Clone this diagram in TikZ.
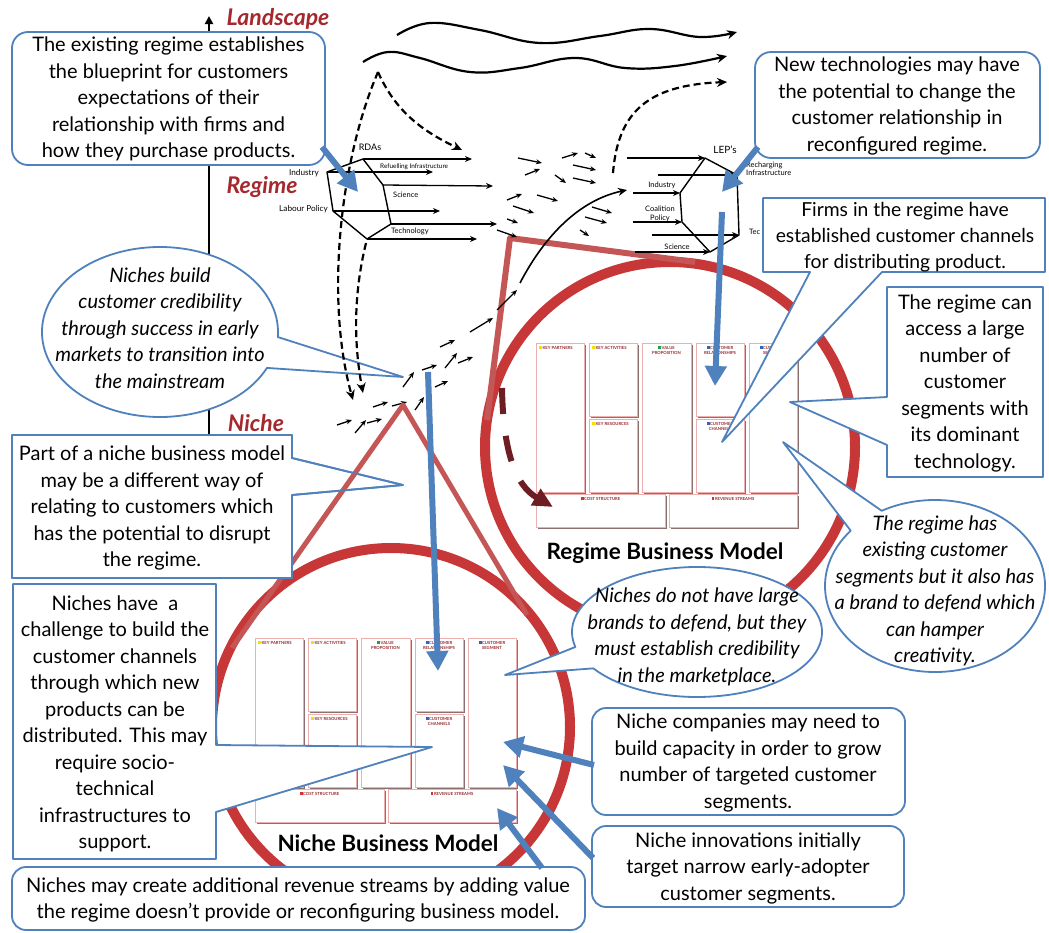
\documentclass[tikz,border=0pt]{standalone}
\usepackage{fontspec}
\setmainfont{Lato}
\usetikzlibrary{arrows.meta}
\definecolor{cblue}{RGB}{79,129,189}
\definecolor{ttl}{RGB}{165,40,45}
\definecolor{ringred}{RGB}{200,55,55}
\definecolor{conered}{RGB}{196,86,86}
\definecolor{dkred}{RGB}{110,30,35}
\definecolor{cvborder}{RGB}{238,175,175}
\definecolor{cvshadow}{RGB}{140,112,112}
\definecolor{cvtext}{RGB}{150,40,45}
\definecolor{sqy}{RGB}{245,225,0}
\definecolor{sqg}{RGB}{30,160,70}
\definecolor{sqb}{RGB}{50,100,190}
\definecolor{sqr}{RGB}{210,50,50}
\newcommand{\cvsq}[1]{\textcolor{#1}{\rule{2.8pt}{2.8pt}}\hspace{0.6pt}}
\tikzset{
 callout/.style={draw=cblue, line width=1.8pt, fill=white, line join=round},
 txt/.style={align=center, font=\fontsize{20}{26.5}\selectfont, inner sep=0pt},
 itxt/.style={align=center, font=\fontsize{20}{26.5}\selectfont\itshape, inner sep=0pt},
 bluearrow/.style={draw=cblue, line width=6pt, -{Triangle[length=20pt,width=21pt]}},
 swarm/.style={line width=1.3pt, -{Stealth[length=6pt,width=5pt]}},
 hexarrow/.style={line width=1.3pt, -{Stealth[length=7pt,width=6pt]}},
 hexline/.style={line width=1.4pt, line join=round},
 wave/.style={line width=2.2pt, -{Stealth[length=10pt,width=9pt]}},
 dashcurve/.style={line width=2.2pt, dash pattern=on 7pt off 4pt, -{Stealth[length=10pt,width=9pt]}},
 smalltxt/.style={font=\fontsize{7.5}{8.5}\selectfont, inner sep=0pt},
 lvl/.style={font=\fontsize{23}{24}\selectfont\bfseries\itshape, text=ttl, inner sep=0pt},
 cvlabel/.style={font=\fontsize{4.2}{4.8}\selectfont\bfseries, text=cvtext, inner sep=0pt, align=center},
 bmtitle/.style={font=\fontsize{22.5}{24}\selectfont\bfseries, inner sep=0pt},
}
\newcommand{\bmcanvas}[3]{%
\begin{scope}[shift={(#2,#3)}]
\foreach \xa/\ya/\xb/\yb in {0/0/48/149,53/0/101/73,53/76/101/149,106/0/155/149,160/0/208/73,160/76/208/149,213/0/261/149,0/151/129/184,133/151/261/184}{
 \fill[cvshadow] (\xa+1.6,\ya+1.6) rectangle (\xb+1.6,\yb+1.6);
 \draw[cvborder,line width=0.9pt,fill=white] (\xa,\ya) rectangle (\xb,\yb);
}
\node[cvlabel,anchor=north west] (#1kp) at (3,3) {\cvsq{sqy}KEY PARTNERS};
\node[cvlabel,anchor=north west] (#1ka) at (56,3) {\cvsq{sqy}KEY ACTIVITIES};
\node[cvlabel,anchor=north west] (#1kr) at (56,79) {\cvsq{sqy}KEY RESOURCES};
\node[cvlabel,anchor=north] (#1vp) at (130.5,3) {\cvsq{sqg}VALUE\\PROPOSITION};
\node[cvlabel,anchor=north] (#1cr) at (184,3) {\cvsq{sqb}CUSTOMER\\RELATIONSHIPS};
\node[cvlabel,anchor=north] (#1cc) at (184,79) {\cvsq{sqb}CUSTOMER\\CHANNELS};
\node[cvlabel,anchor=north] (#1cs) at (237,3) {\cvsq{sqb}CUSTOMER\\SEGMENT};
\node[cvlabel,anchor=north] (#1co) at (64.5,154) {\cvsq{sqr}COST STRUCTURE};
\node[cvlabel,anchor=north] (#1re) at (197,154) {\cvsq{sqr}REVENUE STREAMS};
\end{scope}}
\begin{document}
\begin{tikzpicture}[x=1pt,y=-1pt]
\useasboundingbox (0,0) rectangle (1049,932);
\fill[white] (0,0) rectangle (1049,932);
% axis
\coordinate (axb) at (209,440);
\coordinate (axt) at (209,16);
\draw[line width=2.4pt, -{Triangle[length=8pt,width=8pt]}] (axb) -- (axt);
% circles and cone
\draw[ringred, line width=10pt] (670,447) circle[radius=185];
\draw[ringred, line width=10pt] (391,727) circle[radius=179];
\draw[conered, line width=6pt, line join=round] (487,420) -- (510,238) -- (695,262);
% canvases
\bmcanvas{r}{536}{343}
\bmcanvas{n}{255}{638}
% hexagon labels
\node[smalltxt, font=\fontsize{9}{10}\selectfont] (rdas) at (370,147) {RDAs};
\node[smalltxt, font=\fontsize{8.2}{9}\selectfont, anchor=east] (lind) at (319,173) {Industry};
\node[smalltxt, font=\fontsize{8.2}{9}\selectfont, anchor=east] (llab) at (328,209) {Labour Policy};
\node[smalltxt, font=\fontsize{6.4}{7}\selectfont, anchor=west] (lref) at (380,167) {Refuelling Infrastructure};
\node[smalltxt, anchor=west] (lsci) at (393,195) {Science};
\node[smalltxt, anchor=west] (ltec) at (391,231) {Technology};
\node[smalltxt, font=\fontsize{10}{11}\selectfont] (leps) at (725,150) {LEP’s};
\node[smalltxt, anchor=west, align=left] (rrec) at (746,169) {Recharging\\Infrastructure};
\node[smalltxt] (rind) at (662,185) {Industry};
\node[smalltxt, align=center] (rcoa) at (660,214) {Coalition\\Policy};
\node[smalltxt] (rsci) at (677,247) {Science};
\node[smalltxt, anchor=west] (rtec) at (749,232) {Tec};
% callout shapes
\draw[callout, rounded corners=16pt] (12,32) rectangle (325,165);
\draw[callout, rounded corners=16pt] (755,52) rectangle (1040,158);
\draw[callout] (763,198) -- (1045,198) -- (1045,272) -- (882,272) -- (722,442) -- (810,272) -- (763,272) -- cycle;
\draw[callout] (887,287) -- (1043,287) -- (1043,477) -- (887,477) -- (887,445) -- (790,402) -- (887,397) -- cycle;
\draw[callout] (935,586) ++(241:110 and 86) arc[start angle=241, end angle=580, x radius=110, y radius=86] -- (783,442) -- cycle;
\draw[callout] (160,332) ++(25:118 and 85) arc[start angle=25, end angle=363.4, x radius=118, y radius=85] -- (403,377) -- cycle;
\draw[callout] (12,435) -- (292,435) -- (292,458) -- (403,485) -- (292,495) -- (292,578) -- (12,578) -- cycle;
\draw[callout] (13,584) -- (216,584) -- (216,745) -- (432,747) -- (216,812) -- (216,859) -- (13,859) -- cycle;
\draw[callout, rounded corners=14pt] (12,867) rectangle (585,930);
\draw[callout] (697,632) ++(166.7:125 and 65) arc[start angle=166.7, end angle=506, x radius=125, y radius=65] -- (505,675) -- cycle;
\draw[callout, rounded corners=14pt] (592,708) rectangle (905,815);
\draw[callout, rounded corners=14pt] (592,826) rectangle (904,907);
% waves and dashed curves
\draw[wave] plot[smooth, tension=0.7] coordinates {(397,35) (430,23) (480,30) (540,43) (600,36) (650,29) (700,37) (737,32)};
\draw[wave] plot[smooth, tension=0.7] coordinates {(363,62) (388,52) (420,58) (470,72) (520,68) (575,58) (625,68) (675,66) (727,56)};
\draw[dashcurve] (613,173) .. controls (618,110) and (650,85) .. (727,82);
\coordinate (peak) at (378,72);
\draw[dashcurve] (peak) .. controls (395,110) and (420,130) .. (462,150);
\draw[dashcurve] (peak) .. controls (340,160) and (325,300) .. (353,400);
\draw[dashcurve] (366,243) .. controls (352,300) and (355,350) .. (363,393);
% left hexagon
\coordinate (lh1) at (327,172);
\coordinate (lh2) at (363,159);
\coordinate (lh3) at (383,185);
\coordinate (lh4) at (391,224);
\coordinate (lh5) at (367,239);
\coordinate (lh6) at (333,211);
\draw[hexline] (lh1) -- (lh2) -- (lh3) -- (lh4) -- (lh5) -- (lh6) -- cycle;
\draw[hexarrow] (lh2) -- (472,159);
\draw[hexarrow] (lh1) -- (433,172);
\draw[hexarrow] (lh3) -- (493,186);
\draw[hexarrow] (lh6) -- (440,211);
\draw[hexarrow] (lh4) -- (497,224);
\draw[hexarrow] (lh5) -- (477,239);
% right hexagon
\coordinate (rh1) at (680,193);
\coordinate (rh2) at (705,158);
\coordinate (rh3) at (737,175);
\coordinate (rh4) at (739,235);
\coordinate (rh5) at (710,252);
\coordinate (rh6) at (682,222);
\draw[hexline] (rh1) -- (rh2) -- (rh3) -- (rh4) -- (rh5) -- (rh6) -- cycle;
\draw[hexarrow] (627,158) -- (rh2);
\draw[hexarrow] (658,175) -- (rh3);
\draw[hexarrow] (633,193) -- (rh1);
\draw[hexarrow] (633,222) -- (rh6);
\draw[hexarrow] (652,235) -- (rh4);
\draw[hexarrow] (635,252) -- (rh5);
% swarm arrows
\foreach \a/\b/\c/\d in {518/158/542/163, 525/175/540/169, 562/158/578/153, 585/153/596/158, 573/165/596/170, 555/175/566/183, 573/178/596/183, 507/200/522/194, 537/195/558/201, 513/206/534/213, 507/219/518/223, 592/207/612/213, 585/217/607/223, 580/230/589/236, 497/230/517/237,
 337/425/352/420, 355/433/366/420, 367/423/382/419, 373/407/388/402, 392/406/407/402, 403/387/414/372, 415/410/424/397, 422/370/437/365, 435/387/448/381, 445/368/457/353, 440/347/455/340, 458/363/473/357, 470/332/493/318, 497/310/517/290}
 \draw[swarm] (\a,\b) -- (\c,\d);
\draw[line width=1.6pt, -{Stealth[length=9pt,width=8pt]}] (520,283) .. controls (545,235) and (580,200) .. (627,190);
% niche triangle
\draw[conered, line width=5pt, line join=round] (232,648) -- (403,405) -- (527,615);
\fill[white] (13,436) rectangle (291,577);
\draw[callout, fill=none] (12,435) -- (292,435) -- (292,458) -- (403,485) -- (292,495) -- (292,578) -- (12,578) -- cycle;
% dark red dashed arrow
\draw[dkred, line width=6pt, dash pattern=on 26pt off 22pt, -{Triangle[length=20pt,width=18pt]}] (502,388) .. controls (503,450) and (515,485) .. (553,507);
% blue arrows
\coordinate (a1s) at (322,147); \coordinate (a1e) at (358,192);
\coordinate (a2s) at (758,147); \coordinate (a2e) at (722,192);
\coordinate (a3s) at (722,212); \coordinate (a3e) at (715,386);
\coordinate (a4s) at (428,372); \coordinate (a4e) at (438,671);
\coordinate (a5s) at (594,765); \coordinate (a5e) at (503,742);
\coordinate (a6s) at (593,858); \coordinate (a6e) at (503,765);
\coordinate (a7s) at (542,868); \coordinate (a7e) at (497,808);
\draw[bluearrow] (a1s) -- (a1e);
\draw[bluearrow] (a2s) -- (a2e);
\draw[bluearrow] (a3s) -- (a3e);
\draw[bluearrow] (a4s) -- (a4e);
\draw[bluearrow] (a5s) -- (a5e);
\draw[bluearrow] (a6s) -- (a6e);
\draw[bluearrow] (a7s) -- (a7e);
% titles
\node[lvl] (land) at (278,19) {Landscape};
\node[lvl] (regi) at (262,187) {Regime};
\node[lvl] (nich) at (256,423) {Niche};
\node[bmtitle] (rbm) at (665,553) {Regime Business Model};
\node[bmtitle] (nbm) at (388,843) {Niche Business Model};
% callout texts
\node[txt] (t1) at (168.5,99) {The existing regime establishes\\the blueprint for customers\\expectations of their\\relationship with firms and\\how they purchase products.};
\node[txt] (t2) at (897,106) {New technologies may have\\the potential to change the\\customer relationship in\\reconfigured regime.};
\node[txt, font=\fontsize{19.3}{26}\selectfont] (t4) at (905,237) {Firms in the regime have\\established customer channels\\for distributing product.};
\node[txt] (t5) at (965,383) {The regime can\\access a large\\number of\\customer\\segments with\\its dominant\\technology.};
\node[itxt] (t6) at (935,591) {The regime has\\existing customer\\segments but it also has\\a brand to defend which\\can hamper\\creativity.};
\node[itxt] (t7) at (160,328) {Niches build\\customer credibility\\through success in early\\markets to transition into\\the mainstream};
\node[txt] (t8) at (152,508) {Part of a niche business model\\may be a different way of\\relating to customers which\\has the potential to disrupt\\the regime.};
\node[txt] (t9) at (115,724) {Niches have \ a\\challenge to build the\\customer channels\\through which new\\products can be\\distributed. This may\\require socio-\\technical\\infrastructures to\\support.};
\node[txt] (t10) at (298,900) {Niches may create additional revenue streams by adding value\\the regime doesn’t provide or reconfiguring business model.};
\node[itxt] (t11) at (697,637) {Niches do not have large\\brands to defend, but they\\must establish credibility\\in the marketplace.};
\node[txt] (t12) at (748,763) {Niche companies may need to\\build capacity in order to grow\\number of targeted customer\\segments.};
\node[txt] (t13) at (748,868) {Niche innovations initially\\target narrow early-adopter\\customer segments.};
\end{tikzpicture}
\end{document}
